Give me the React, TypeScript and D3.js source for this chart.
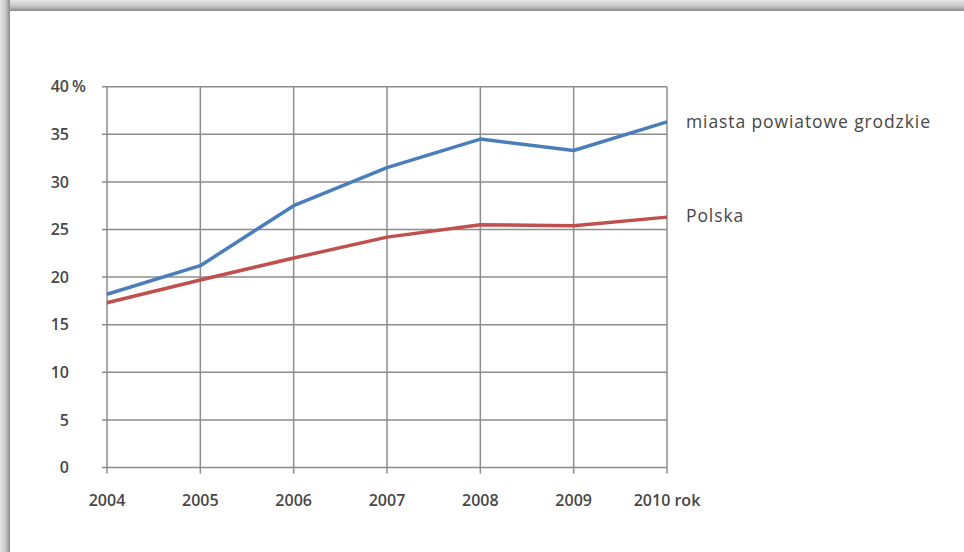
import React from "react";
import * as d3 from "d3";

const years = [2004, 2005, 2006, 2007, 2008, 2009, 2010];
const miastaValues = [18.2, 21.2, 27.5, 31.5, 34.5, 33.3, 36.3];
const polskaValues = [17.3, 19.7, 22.0, 24.2, 25.5, 25.4, 26.3];
const yTicks = [0, 5, 10, 15, 20, 25, 30, 35, 40];
const seriesNames = ["miasta powiatowe grodzkie", "Polska"];

const W = 964;
const H = 552;

export default function App() {
  const x = d3.scalePoint<number>().domain(years).range([107, 667]);
  const y = d3.scaleLinear().domain([0, 40]).range([467.5, 86.7]);
  const line = d3
    .line<number>()
    .x((_, i) => x(years[i]) as number)
    .y((d) => y(d));

  const font = "'Open Sans', Lato, sans-serif";
  const textFill = "#474747";
  const gridColor = "#8c8c8c";
  const tickSize = 16;

  return (
    <svg
      width={W}
      height={H}
      style={{ position: "absolute", left: 0, top: 0, background: "#fff" }}
    >
      <defs>
        <linearGradient id="topBand" x1="0" y1="0" x2="0" y2="1">
          <stop offset="0" stopColor="#e6e6e6" />
          <stop offset="0.55" stopColor="#c8c8c8" />
          <stop offset="1" stopColor="#8a8a8a" />
        </linearGradient>
        <linearGradient id="leftBand" x1="0" y1="0" x2="1" y2="0">
          <stop offset="0" stopColor="#e6e6e6" />
          <stop offset="0.55" stopColor="#c8c8c8" />
          <stop offset="1" stopColor="#8a8a8a" />
        </linearGradient>
      </defs>
      <rect x={0} y={0} width={W} height={H} fill="#fff" />
      <rect x={0} y={0} width={W} height={11} fill="url(#topBand)" />
      <rect x={0} y={0} width={10} height={H} fill="url(#leftBand)" />

      {/* horizontal gridlines */}
      {yTicks.map((t) => (
        <line
          key={"h" + t}
          x1={102}
          x2={667}
          y1={y(t)}
          y2={y(t)}
          stroke={gridColor}
          strokeWidth={1.5}
        />
      ))}
      {/* vertical gridlines */}
      {years.map((yr) => (
        <line
          key={"v" + yr}
          x1={x(yr)}
          x2={x(yr)}
          y1={y(40)}
          y2={y(0) + 6}
          stroke={gridColor}
          strokeWidth={1.5}
        />
      ))}

      {/* y tick labels */}
      {yTicks.map((t) => (
        <text
          key={"yl" + t}
          x={69}
          y={y(t)}
          dy="0.36em"
          textAnchor="end"
          fontFamily={font}
          fontWeight={600}
          fontSize={tickSize}
          fill={textFill}
        >
          {t}
        </text>
      ))}
      <text
        x={72}
        y={y(40)}
        dy="0.36em"
        fontFamily={font}
        fontWeight={600}
        fontSize={tickSize}
        fill={textFill}
      >
        %
      </text>

      {/* x tick labels */}
      {years.map((yr, i) => (
        <text
          key={"xl" + yr}
          x={x(yr)}
          y={506}
          textAnchor="middle"
          fontFamily={font}
          fontWeight={600}
          fontSize={tickSize}
          fill={textFill}
        >
          {i === years.length - 1 ? yr + " rok" : yr}
        </text>
      ))}

      {/* lines */}
      <path
        d={line(polskaValues) || ""}
        fill="none"
        stroke="#c0504d"
        strokeWidth={3.5}
        strokeLinejoin="round"
      />
      <path
        d={line(miastaValues) || ""}
        fill="none"
        stroke="#4a7ebb"
        strokeWidth={3.5}
        strokeLinejoin="round"
      />

      {/* series labels */}
      <text
        x={686}
        y={128}
        fontFamily={font}
        fontSize={17.5}
        letterSpacing={0.9}
        fill={textFill}
      >
        {seriesNames[0]}
      </text>
      <text
        x={686}
        y={222}
        fontFamily={font}
        fontSize={17.5}
        letterSpacing={0.9}
        fill={textFill}
      >
        {seriesNames[1]}
      </text>
    </svg>
  );
}
